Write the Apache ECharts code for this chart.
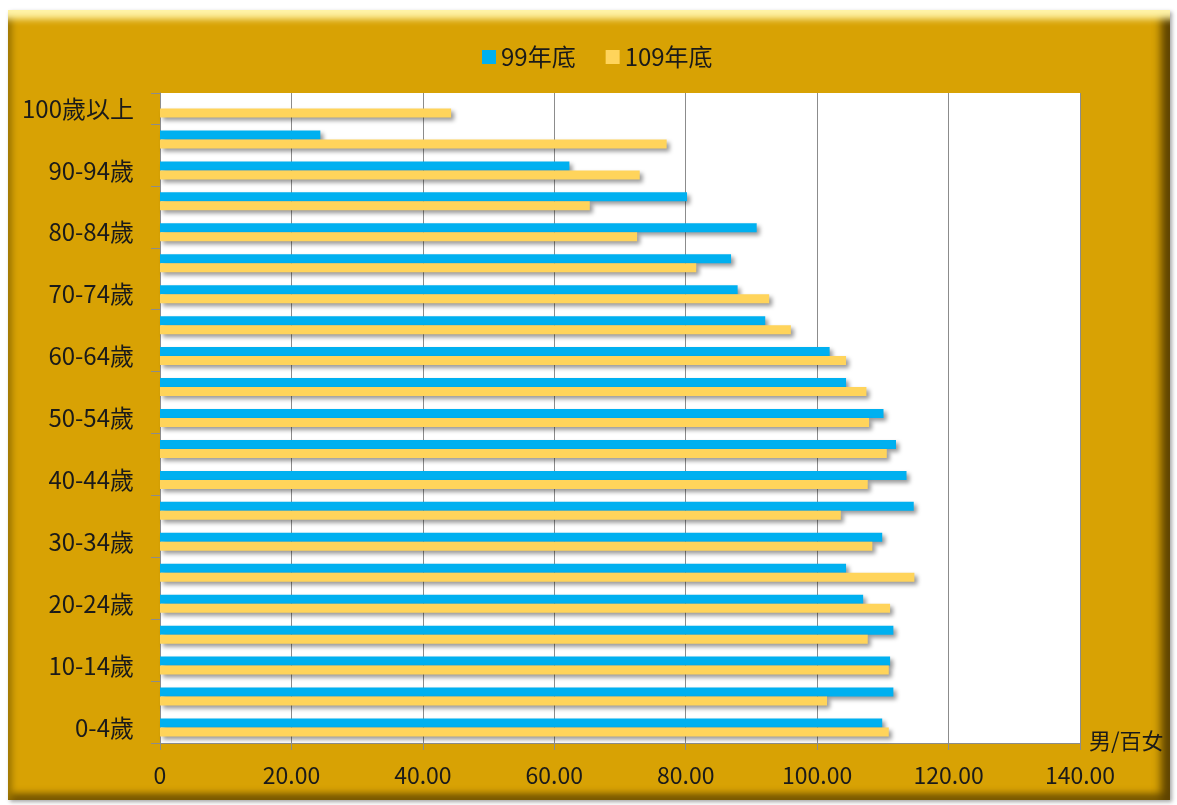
<!DOCTYPE html>
<html>
<head>
<meta charset="utf-8">
<script src="https://cdn.jsdelivr.net/npm/echarts@6/dist/echarts.min.js"></script>
<style>
  html, body { margin: 0; padding: 0; background: #fff; }
  #frame {
    position: absolute; left: 8px; top: 10px; width: 1162px; height: 790px;
    background: #d8a204;
    box-shadow:
      inset 0 16px 7px -7px #fff3a6,
      inset -13px 0 8px -4px #5e4300,
      inset 7px 0 6px -3px #9c7500,
      inset 0 -11px 6px -4px #7d5c00,
      2px 2px 4px rgba(0,0,0,0.35);
  }
  #main { position: absolute; left: 0; top: 0; width: 1177px; height: 805px; }
</style>
</head>
<body>
<div id="frame"></div>
<div id="main"></div>
<script>
// 年齡組（由下往上）
var ageGroups = [
  "0-4歲", "5-9歲", "10-14歲", "15-19歲", "20-24歲", "25-29歲", "30-34歲",
  "35-39歲", "40-44歲", "45-49歲", "50-54歲", "55-59歲", "60-64歲", "65-69歲",
  "70-74歲", "75-79歲", "80-84歲", "85-89歲", "90-94歲", "95-99歲", "100歲以上"
];
// 性比例 男/百女
var year99 = [
  109.9, 111.6, 111.1, 111.6, 107.0, 104.4, 109.9,
  114.7, 113.6, 112.0, 110.1, 104.4, 101.9, 92.1,
  87.9, 86.9, 90.8, 80.2, 62.3, 24.4, null
];
var year109 = [
  110.9, 101.5, 110.9, 107.7, 111.1, 114.8, 108.4,
  103.6, 107.7, 110.6, 107.9, 107.5, 104.4, 96.0,
  92.7, 81.6, 72.6, 65.4, 73.0, 77.1, 44.3
];
var seriesNames = ["99年底", "109年底"];

var font = "'Noto Sans CJK TC', 'Noto Sans', sans-serif";
var chart = echarts.init(document.getElementById("main"));

var barShadow = {
  shadowColor: "rgba(0,0,0,0.4)",
  shadowBlur: 4,
  shadowOffsetX: 3,
  shadowOffsetY: 3
};

var option = {
  backgroundColor: "transparent",
  animation: false,
  textStyle: { fontFamily: font },
  legend: {
    left: 477,
    top: 40,
    itemWidth: 14,
    itemHeight: 14,
    itemGap: 30,
    itemTextGap: 6,
    icon: "rect",
    textStyle: { fontSize: 24, color: "#1a1a1a", fontFamily: font },
    data: seriesNames
  },
  grid: {
    left: 160,
    top: 93,
    width: 920,
    height: 650,
    show: true,
    backgroundColor: "#ffffff",
    borderWidth: 0
  },
  xAxis: {
    type: "value",
    min: 0,
    max: 140,
    interval: 20,
    name: "男/百女",
    nameLocation: "end",
    nameGap: 9,
    nameTextStyle: {
      fontSize: 22, color: "#1a1a1a", fontFamily: font,
      verticalAlign: "bottom", padding: [0, 0, -9, 0]
    },
    axisLine: { show: true, lineStyle: { color: "#8c8c8c", width: 1 } },
    axisTick: { show: true, length: 7, lineStyle: { color: "#8c8c8c" } },
    axisLabel: {
      margin: 21,
      fontSize: 23,
      color: "#1a1a1a",
      fontFamily: font,
      formatter: function (v) { return v === 0 ? "0" : v.toFixed(2); }
    },
    splitLine: { show: true, lineStyle: { color: "#8c8c8c", width: 1 } }
  },
  yAxis: {
    type: "category",
    data: ageGroups,
    axisLine: { show: true, lineStyle: { color: "#8c8c8c", width: 1 } },
    axisTick: { show: true, length: 9, lineStyle: { color: "#8c8c8c" } },
    axisLabel: {
      interval: 1,
      margin: 26,
      fontSize: 24,
      color: "#1a1a1a",
      fontFamily: font
    },
    splitLine: { show: false }
  },
  series: [
    {
      name: seriesNames[0],
      type: "bar",
      data: year99,
      barWidth: 9,
      barGap: "0%",
      itemStyle: Object.assign({ color: "#00b0f0" }, barShadow)
    },
    {
      name: seriesNames[1],
      type: "bar",
      data: year109,
      barWidth: 9,
      barGap: "0%",
      itemStyle: Object.assign({ color: "#ffd45b" }, barShadow)
    }
  ]
};
chart.setOption(option);
</script>
</body>
</html>
